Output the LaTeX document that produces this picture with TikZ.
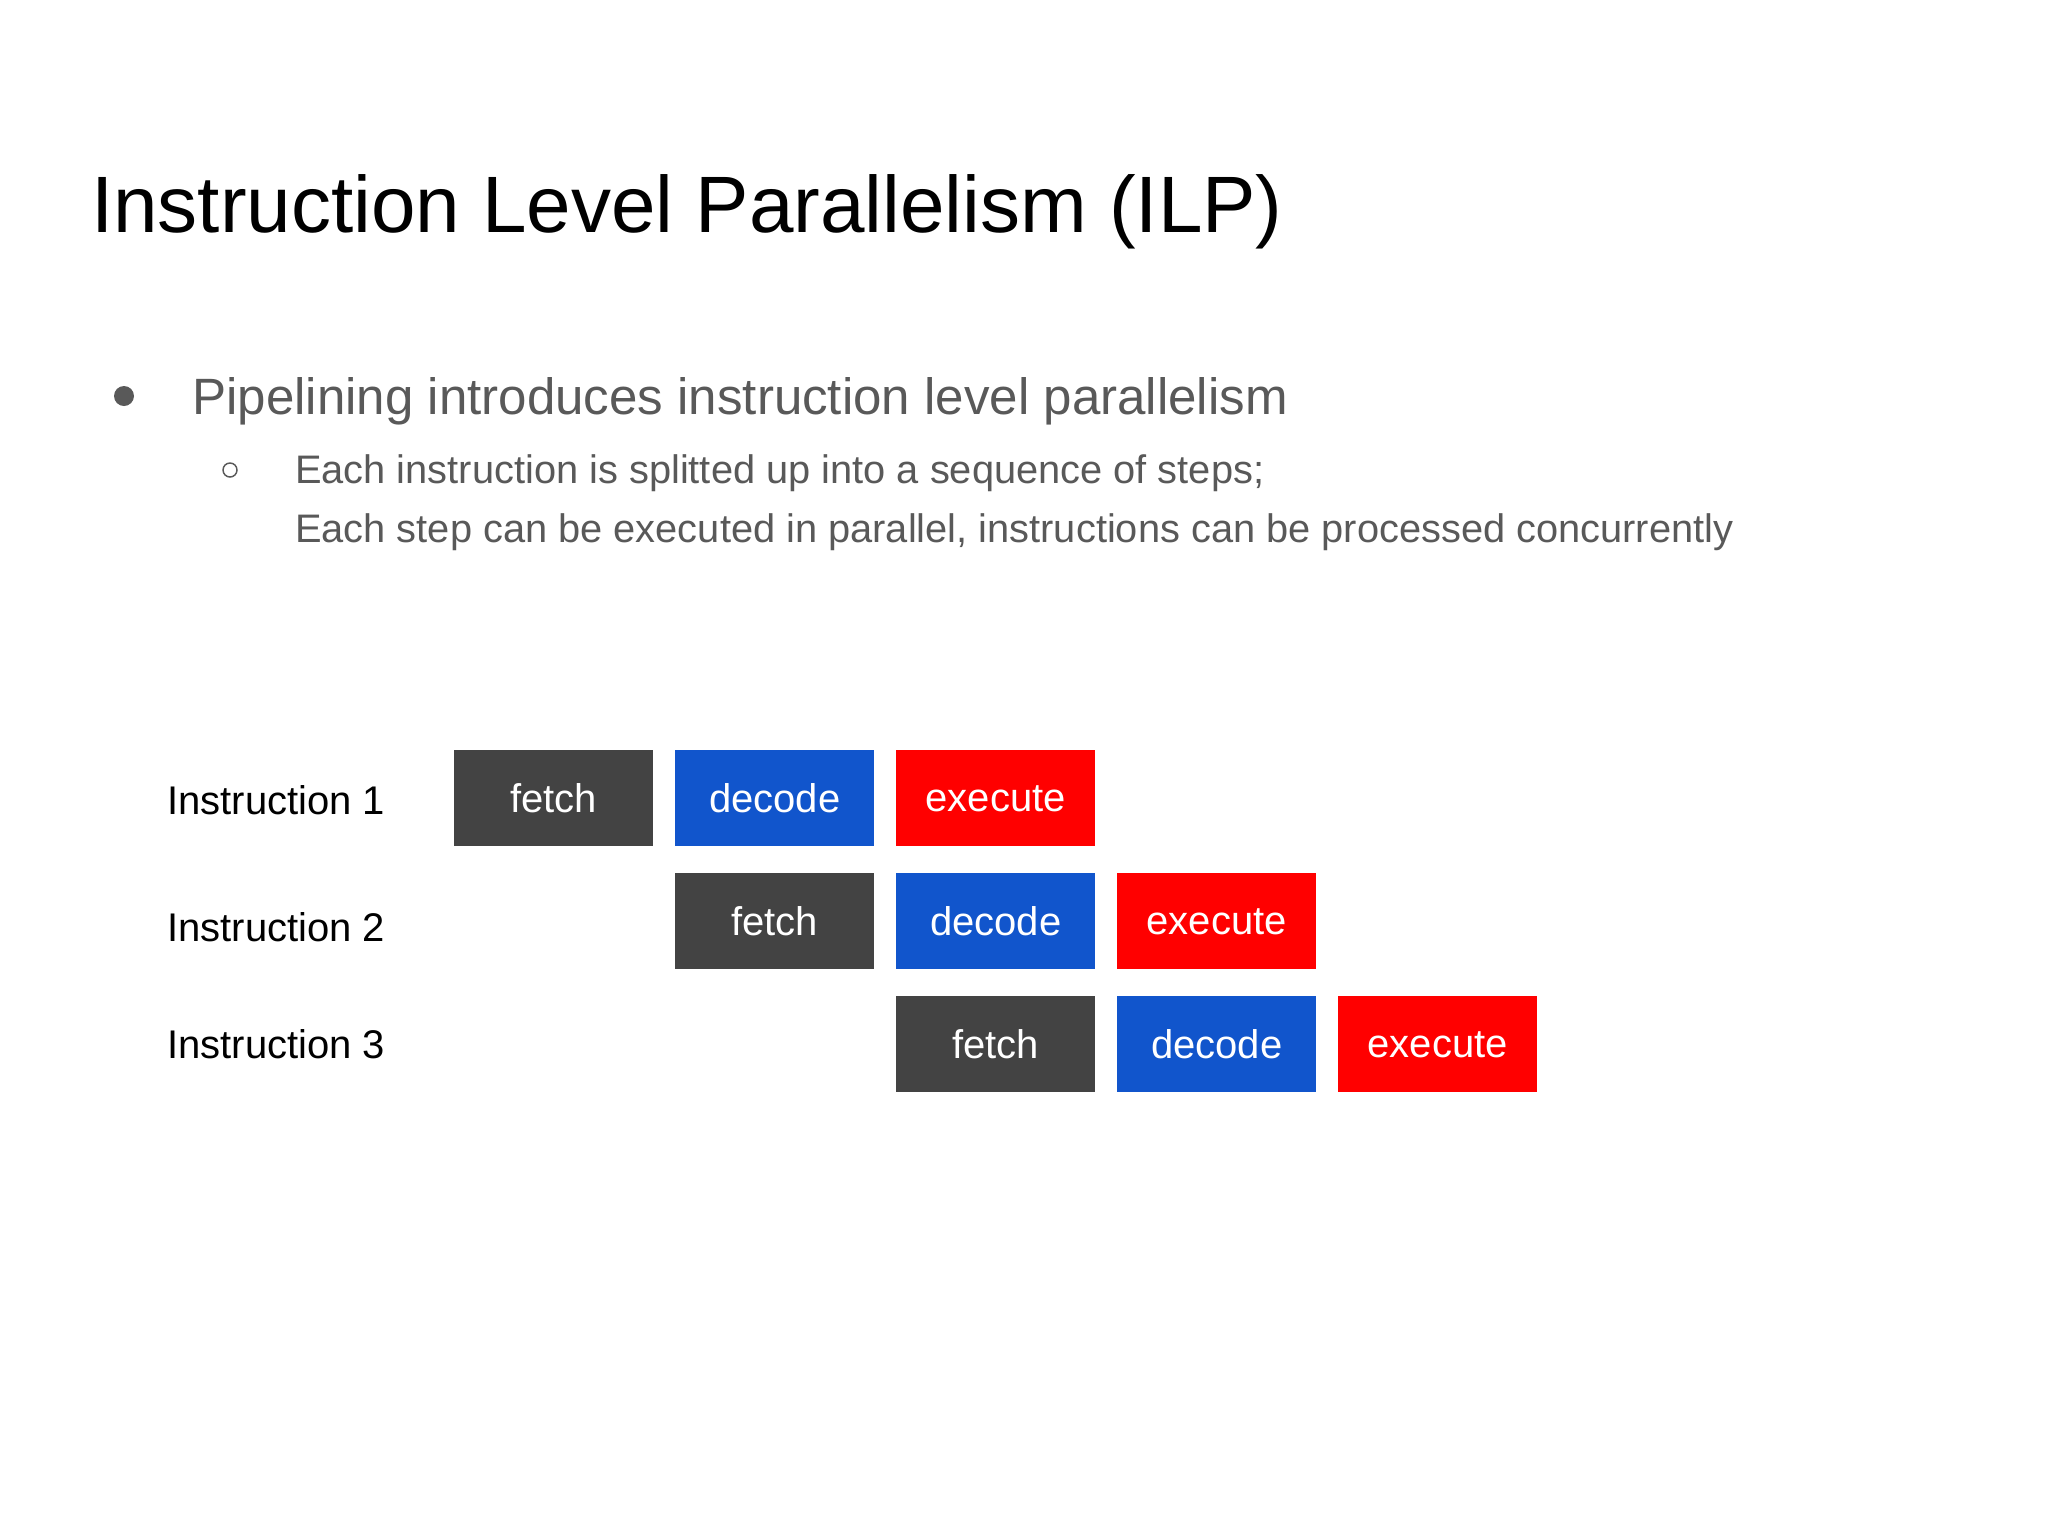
\documentclass[tikz,border=0pt]{standalone}
\usepackage{fontspec}
\setmainfont{Liberation Sans}
\definecolor{fetchc}{HTML}{434343}
\definecolor{decodec}{HTML}{1155CC}
\definecolor{execc}{HTML}{FF0000}
\definecolor{bodyc}{HTML}{595959}
\begin{document}
\begin{tikzpicture}[x=0.75pt,y=-0.75pt,
  stagebox/.style={anchor=north west, minimum width=149.25pt, minimum height=72pt, inner sep=0pt, text=white, font=\fontsize{30}{36}\selectfont},
  fetchbox/.style={stagebox, fill=fetchc},
  decodebox/.style={stagebox, fill=decodec},
  execbox/.style={stagebox, fill=execc},
  txt/.style={anchor=base west, inner sep=0pt},
  insl/.style={txt, font=\fontsize{30}{36}\selectfont, text=black},
  bodytxt/.style={txt, text=bodyc}]
\useasboundingbox[fill=white] (0,0) rectangle (2048,1536);
% title
\node[txt, font=\fontsize{60}{72}\selectfont] (title) at (91,232) {Instruction Level Parallelism (ILP)};
% bullets
\fill[bodyc] (124,396) circle[radius=10];
\node[bodytxt, font=\fontsize{38.3}{46}\selectfont] (b1) at (192,414) {Pipelining introduces instruction level parallelism};
\draw[bodyc, line width=1.1pt] (230,470) circle[radius=7];
\node[bodytxt, font=\fontsize{29.85}{36}\selectfont] (s1) at (295,483) {Each instruction is splitted up into a sequence of steps;};
\node[bodytxt, font=\fontsize{29.85}{36}\selectfont] (s2) at (295,542) {Each step can be executed in parallel, instructions can be processed concurrently};
% instruction labels
\node[insl] (i1) at (167,814) {Instruction 1};
\node[insl] (i2) at (167,941) {Instruction 2};
\node[insl] (i3) at (167,1058) {Instruction 3};
% row 1
\node[fetchbox]  (f1) at (454,750) {fetch};
\node[decodebox] (d1) at (675,750) {decode};
\node[execbox]   (e1) at (896,750) {execute};
% row 2
\node[fetchbox]  (f2) at (675,873) {fetch};
\node[decodebox] (d2) at (896,873) {decode};
\node[execbox]   (e2) at (1117,873) {execute};
% row 3
\node[fetchbox]  (f3) at (896,996) {fetch};
\node[decodebox] (d3) at (1117,996) {decode};
\node[execbox]   (e3) at (1338,996) {execute};
\end{tikzpicture}
\end{document}
